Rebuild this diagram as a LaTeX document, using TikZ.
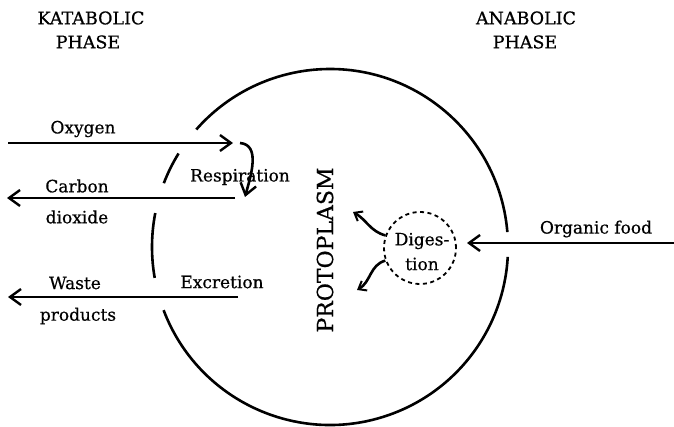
\documentclass[tikz,border=0pt]{standalone}
\usepackage{fontspec}
\setmainfont{DejaVu Serif}[FakeBold=0.6]
\usetikzlibrary{arrows.meta}
\begin{document}
\begin{tikzpicture}[x=1pt,y=1pt,line width=2.6pt,
  barb/.style={-{Straight Barb[length=11pt,width=16pt,line width=2.4pt]}},
  smallbarb/.style={-{Straight Barb[length=7pt,width=11pt,line width=2pt]}},
  lbl/.style={inner sep=0pt,font=\fontsize{17}{20}\selectfont},
  ttl/.style={inner sep=0pt,font=\fontsize{17.5}{21}\selectfont}]
\useasboundingbox (0,0) rectangle (674,427);
% protoplasm outline
\draw (330,180) ++(4.8:178) arc[start angle=4.8,end angle=138.7,radius=178];
\draw (330,180) ++(148.3:178) arc[start angle=148.3,end angle=159,radius=178];
\draw (330,180) ++(169:178) arc[start angle=169,end angle=190,radius=178];
\draw (330,180) ++(200.8:178) arc[start angle=200.8,end angle=356.8,radius=178];
% titles
\node[ttl] (kat) at (91,409) {KATABOLIC};
\node[ttl] (katp) at (88,385) {PHASE};
\node[ttl] (ana) at (526,409) {ANABOLIC};
\node[ttl] (anap) at (525,385) {PHASE};
% coordinates
\coordinate (oxs) at (8,284);
\coordinate (oxe) at (233,284);
\coordinate (rs) at (240,284);
\coordinate (re) at (245,230);
\coordinate (cos) at (235,229);
\coordinate (coe) at (7,229);
\coordinate (ws) at (238,130);
\coordinate (we) at (8,130);
\coordinate (ofs) at (674,184);
\coordinate (ofe) at (467,184);
\coordinate (du) at (353,215);
\coordinate (dl) at (357,137);
% labels
\node[lbl] (oxy) at (83,298) {Oxygen};
\node[lbl] (carb) at (77,241) {Carbon};
\node[lbl] (diox) at (77,210) {dioxide};
\node[lbl] (resp) at (240,250) {Respiration};
\node[lbl] (waste) at (75,144) {Waste};
\node[lbl] (prod) at (78,111) {products};
\node[lbl] (excr) at (222,145) {Excretion};
\node[lbl] (org) at (596,198) {Organic food};
\node[inner sep=0pt,rotate=90,font=\fontsize{22}{26}\selectfont] (proto) at (325,177) {PROTOPLASM};
\node[draw,circle,minimum size=72pt,line width=1.8pt,dash pattern=on 4pt off 3.5pt] (dig) at (420,179) {};
\node[lbl] (diga) at (422,186) {Diges-};
\node[lbl] (digb) at (422,163) {tion};
% arrows
\draw[barb] (oxs) -- (oxe);
\draw[barb] (rs) to[out=-5,in=75] (re);
\draw[barb] (cos) -- (coe);
\draw[barb] (ws) -- (we);
\draw[barb] (ofs) -- (ofe);
\draw[smallbarb] (dig.160) to[out=165,in=-30] (du);
\draw[smallbarb] (dig.200) to[out=195,in=30] (dl);
\end{tikzpicture}
\end{document}
